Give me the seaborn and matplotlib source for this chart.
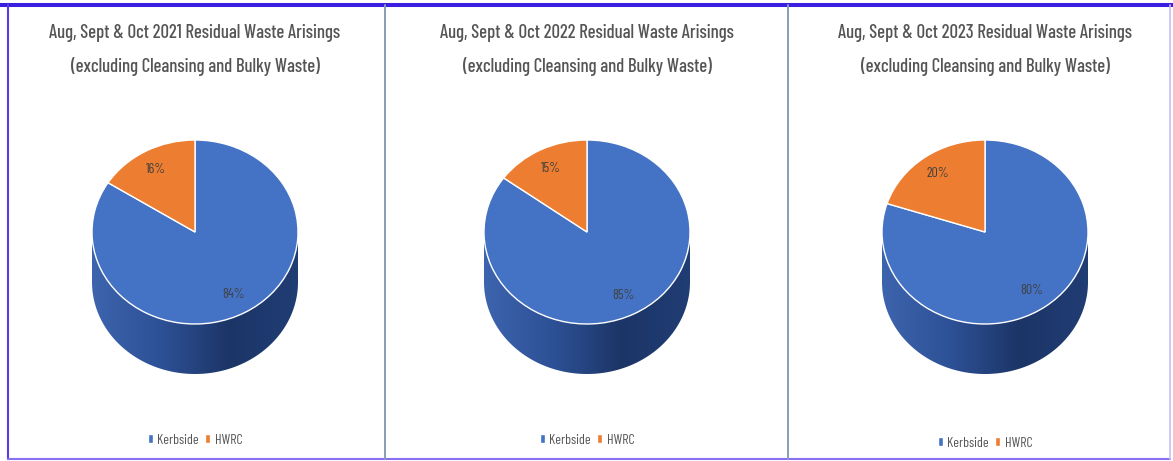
import numpy as np
import matplotlib
matplotlib.use("Agg")
import matplotlib.pyplot as plt
import seaborn as sns
from matplotlib.lines import Line2D
from matplotlib.patches import Polygon, Patch
from matplotlib.colors import LinearSegmentedColormap

# ---- data ----
years = ["2021", "2022", "2023"]
kerbside = [84, 85, 80]
hwrc = [16, 15, 20]
categories = ["Kerbside", "HWRC"]
title_line1 = "Aug, Sept & Oct {} Residual Waste Arisings"
title_line2 = "(excluding Cleansing and Bulky Waste)"

sns.set_theme(style="white")
plt.rcParams["font.family"] = ["Barlow Condensed", "Archivo Narrow", "Open Sans", "DejaVu Sans"]

palette = sns.color_palette(["#4472C4", "#ED7D31"])
side_cmap = LinearSegmentedColormap.from_list(
    "side", ["#3d64ae", "#2d5196", "#1c3567", "#203d74"])

W, H = 1173, 461
fig = plt.figure(figsize=(W / 100, H / 100), dpi=100)
fig.patch.set_facecolor("white")

def fx(px):
    return px / W

def fy(py):
    return 1 - py / H

centers = [195, 587, 985]
rx = 103          # horizontal radius, px
ry = 92           # vertical radius of top ellipse, px
top_px = 140
depth_px = 50
depth = depth_px / ry

for i, year in enumerate(years):
    cx = centers[i]
    left = cx - rx
    bottom_px = top_px + 2 * ry + depth_px
    ax = fig.add_axes([fx(left), fy(bottom_px), 2 * rx / W, (bottom_px - top_px) / H])
    vals = [kerbside[i], hwrc[i]]

    # cylinder side with gradient
    t = np.linspace(np.pi, 2 * np.pi, 200)
    pts = [(-1, 0)] + list(zip(np.cos(t), -depth + np.sin(t))) + [(1, 0)]
    poly = Polygon(pts, closed=True, facecolor="none", edgecolor="none",
                   transform=ax.transData)
    ax.add_patch(poly)
    grad = np.linspace(0, 1, 256).reshape(1, -1)
    im = ax.imshow(grad, cmap=side_cmap, extent=(-1, 1, -1 - depth, 0),
                   aspect="auto", zorder=1, interpolation="bilinear")
    im.set_clip_path(poly)

    # top face
    wedges, _, autotexts = ax.pie(
        vals, colors=palette, startangle=90, counterclock=False,
        autopct="%1.0f%%", pctdistance=0.78,
        wedgeprops=dict(edgecolor="white", linewidth=1.0, zorder=3),
        textprops=dict(color="#404040", fontsize=10, zorder=4))
    for at in autotexts:
        at.set_zorder(5)
    ax.set_aspect("auto")
    ax.set_xlim(-1, 1)
    ax.set_ylim(-1 - depth, 1)
    ax.axis("off")

    # titles
    fig.text(fx(cx), fy(33), title_line1.format(year), ha="center", va="center",
             fontsize=13.5, color="#555555", fontweight=500)
    fig.text(fx(cx), fy(67), title_line2, ha="center", va="center",
             fontsize=13.5, color="#555555", fontweight=500)

    # legend
    handles = [Patch(facecolor=palette[0]), Patch(facecolor=palette[1])]
    ly = 440 if i < 2 else 443
    ax.legend(handles, categories, loc="center", ncol=2, frameon=False,
              bbox_to_anchor=(fx(cx), fy(ly)), bbox_transform=fig.transFigure,
              handlelength=0.35, handleheight=0.6, handletextpad=0.3,
              columnspacing=0.5, fontsize=10, labelcolor="#555555")

# borders and dividers
tf = fig.transFigure
fig.add_artist(Line2D([0, 1], [fy(5), fy(5)], color="#3a1fe0", lw=2.9, transform=tf))
fig.add_artist(Line2D([fx(8), fx(8)], [fy(5), fy(459)], color="#5a3ce6", lw=1.5, transform=tf))
fig.add_artist(Line2D([fx(8), fx(1170)], [fy(459), fy(459)], color="#8a70f0", lw=1.5, transform=tf))
fig.add_artist(Line2D([fx(1170), fx(1170)], [fy(5), fy(459)], color="#c8bdf5", lw=1.2, transform=tf))
for xd in [385, 788]:
    fig.add_artist(Line2D([fx(xd), fx(xd)], [fy(5), fy(459)], color="#8a9cb5", lw=1.4, transform=tf))

fig.savefig("out.png", dpi=100, facecolor="white")
